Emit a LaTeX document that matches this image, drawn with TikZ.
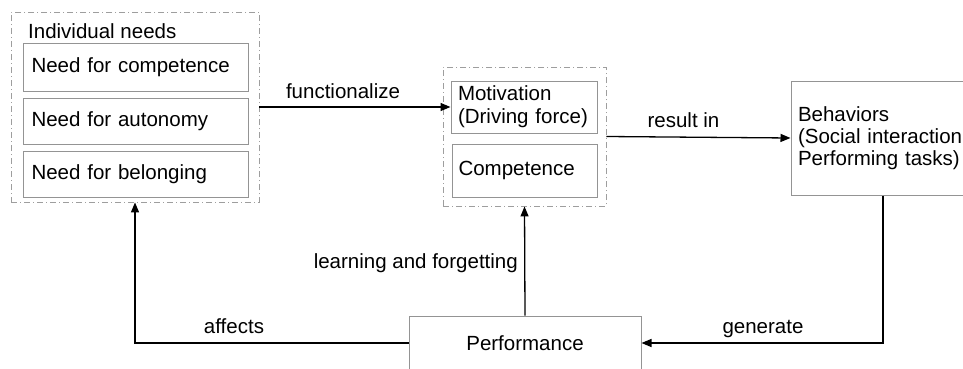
\documentclass[tikz,border=0pt]{standalone}
\usepackage{fontspec}
\setmainfont{Liberation Sans}
\usetikzlibrary{arrows.meta}
\begin{document}
\begin{tikzpicture}[x=1pt,y=-1pt,
  every node/.style={font=\fontsize{20.5}{23}\selectfont, text=black},
  box/.style={draw=black!42, line width=1pt, rectangle, inner xsep=8.5pt, inner ysep=0pt, align=left},
  grp/.style={draw=black!38, line width=0.9pt, dash pattern=on 6pt off 3pt on 1pt off 3pt, rectangle, inner sep=0pt},
  arr/.style={draw=black, line width=1.3pt, -{Triangle[length=10pt,width=8pt]}},
  lbl/.style={inner sep=0pt, anchor=base}]
\useasboundingbox (0,0) rectangle (963,369);
\clip (0,0) rectangle (963,369);
% group boxes
\node[grp, minimum width=248pt, minimum height=190pt] (needs) at (135,107) {};
\node[grp, minimum width=163pt, minimum height=139pt] (mid) at (524.5,136.5) {};
\node[inner sep=0pt, anchor=base west] (needslbl) at (28,38) {Individual needs};
% inner boxes
\node[box, text width=208pt, minimum height=47pt] (need1) at (135.5,67.5) {Need for competence};
\node[box, text width=208pt, minimum height=46pt] (need2) at (135.5,121) {Need for autonomy};
\node[box, text width=208pt, minimum height=46pt] (need3) at (135.5,174) {Need for belonging};
\node[box, text width=132pt, minimum height=52pt, inner xsep=7pt] (motiv) at (524,107) {\mbox{Motivation}\\\mbox{(Driving force)}};
\node[box, text width=132pt, minimum height=53pt, inner xsep=6.5pt] (comp) at (524.5,170.5) {Competence};
\node[box, text width=170pt, minimum height=114pt, inner xsep=7pt, font=\fontsize{20.5}{21.7}\selectfont] (behav) at (883,138) {\mbox{Behaviors}\\\mbox{(Social interaction,}\\\mbox{Performing tasks)}};
\node[box, align=center, minimum width=232pt, minimum height=54pt] (perf) at (525,343) {Performance};
% connectors
\draw[arr] (needs.east) -- (motiv.west);
\draw[arr] (mid.east) -- (behav.west);
\draw[arr] (perf.north) -- (mid.south);
\draw[arr] (perf.west) -| (needs.south);
\draw[arr] (behav.south) |- (perf.east);
% labels
\node[lbl] (lf) at (343,98) {functionalize};
\node[lbl] (lr) at (683.5,127) {result in};
\node[inner sep=0pt, anchor=base east] (ll) at (518,268) {learning and forgetting};
\node[lbl] (la) at (234,333) {affects};
\node[lbl] (lg) at (763,333) {generate};
\end{tikzpicture}
\end{document}
